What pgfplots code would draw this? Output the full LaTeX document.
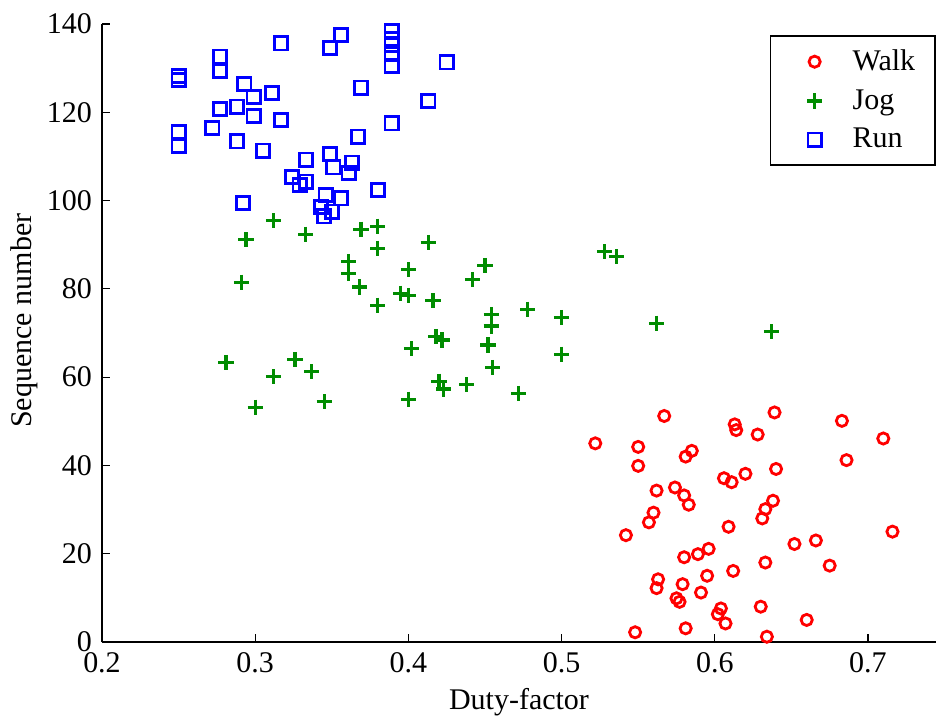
\documentclass[border=0pt]{standalone}
\usepackage{fontspec}
\setmainfont{Liberation Serif}
\usepackage{pgfplots}
\pgfplotsset{compat=1.18}

\definecolor{walkred}{RGB}{255,0,0}
\definecolor{joggreen}{RGB}{0,140,0}
\definecolor{runblue}{RGB}{0,0,255}

% marker in the middle of a 28bp wide legend cell
\pgfplotsset{
    mylegend/.style={legend image code/.code={%
        \path[draw=none, fill=none] (0bp,-1bp) rectangle (28bp,1bp);
        \path[##1] plot coordinates {(14bp,0bp)};}},
}

\begin{document}
\begin{tikzpicture}[font=\fontsize{15bp}{18bp}\selectfont]
\begin{axis}[
    name=ax,
    scale only axis,
    width=417bp, height=309bp,
    xmin=0.2, xmax=0.7444,
    ymin=0, ymax=140,
    axis x line*=bottom,
    axis y line*=left,
    axis line style={black, line width=0.8bp},
    tick align=inside,
    major tick length=4bp,
    tick style={black, line width=0.6bp},
    xtick={0.2,0.3,0.4,0.5,0.6,0.7},
    ytick={0,20,40,60,80,100,120,140},
    xticklabel style={/pgf/number format/fixed, /pgf/number format/precision=1, /pgf/number format/fixed zerofill, yshift=-2bp},
    yticklabel style={xshift=-1.5bp},
    /pgf/number format/assume math mode=true,
    xlabel={Duty-factor},
    ylabel={Sequence number},
    xlabel style={at={(axis description cs:0.5,0)}, anchor=center, yshift=-30bp},
    ylabel style={at={(axis description cs:-0.0935,0.52)}, anchor=center},
    clip=false,
    legend style={at={(1,1)}, anchor=north east, yshift=-5.5bp,
        draw=black, line width=0.8bp, inner xsep=8bp, inner ysep=5bp,
        nodes={inner sep=2bp}, column sep=3bp, row sep=4bp},
    legend cell align=left,
]
\addplot[only marks, mylegend, mark=o, walkred, mark size=2.8bp, line width=1.4bp] coordinates {
(0.567,51.2) (0.522,45.0) (0.550,44.2) (0.550,39.9) (0.613,49.3) (0.614,48.0)
(0.585,43.3) (0.581,42.0) (0.628,47.0) (0.606,37.1) (0.611,36.2) (0.620,38.1)
(0.562,34.3) (0.574,35.0) (0.580,33.2) (0.583,31.1) (0.560,29.3) (0.557,27.1)
(0.542,24.2) (0.609,26.1) (0.580,19.2) (0.589,19.9) (0.596,21.1) (0.612,16.1)
(0.563,14.2) (0.562,12.2) (0.579,13.1) (0.595,15.0) (0.591,11.2) (0.575,9.9)
(0.577,9.1) (0.604,7.6) (0.602,6.3) (0.607,4.2) (0.548,2.2) (0.581,3.1)
(0.639,52.0) (0.683,50.1) (0.710,46.1) (0.686,41.2) (0.640,39.2) (0.638,32.0)
(0.633,30.1) (0.631,28.0) (0.716,25.0) (0.652,22.2) (0.666,23.0) (0.633,18.0)
(0.675,17.3) (0.630,8.0) (0.660,5.0) (0.634,1.2)
};
\addlegendentry{Walk}
\addplot[only marks, mylegend, mark=+, joggreen, mark size=3.8bp, line width=1.6bp] coordinates {
(0.312,95.4) (0.294,91.1) (0.333,92.4) (0.369,93.5) (0.380,94.2) (0.380,89.2)
(0.413,90.5) (0.361,86.2) (0.361,83.4) (0.368,80.4) (0.400,84.3) (0.291,81.5)
(0.380,76.3) (0.395,79.0) (0.400,78.5) (0.416,77.3) (0.442,82.1) (0.281,63.3)
(0.312,60.1) (0.326,64.0) (0.337,61.2) (0.300,53.2) (0.345,54.4) (0.400,55.0)
(0.402,66.4) (0.418,69.2) (0.422,68.4) (0.420,59.1) (0.423,57.3) (0.438,58.3)
(0.528,88.4) (0.536,87.3) (0.450,85.3) (0.478,75.4) (0.454,74.2) (0.454,71.6)
(0.500,73.5) (0.562,72.2) (0.637,70.3) (0.452,67.3) (0.500,65.2) (0.455,62.2)
(0.472,56.3)
};
\addlegendentry{Jog}
\addplot[only marks, mylegend, mark=square, runblue, mark size=3.3bp, line width=1.4bp] coordinates {
(0.317,135.6) (0.356,137.5) (0.349,134.5) (0.389,138.4) (0.389,136.6) (0.389,135.2)
(0.389,133.2) (0.389,130.5) (0.425,131.3) (0.277,132.6) (0.277,129.4) (0.250,128.2)
(0.250,127.3) (0.250,115.5) (0.250,112.4) (0.293,126.4) (0.311,124.4) (0.299,123.4)
(0.288,121.3) (0.277,120.7) (0.299,119.2) (0.317,118.3) (0.272,116.4) (0.288,113.4)
(0.305,111.3) (0.369,125.6) (0.413,122.6) (0.389,117.5) (0.367,114.5) (0.333,109.3)
(0.349,110.6) (0.351,107.5) (0.363,108.6) (0.361,106.2) (0.324,105.4) (0.333,104.3)
(0.329,103.5) (0.380,102.4) (0.346,101.3) (0.356,100.5) (0.343,98.5) (0.350,97.5)
(0.345,96.4) (0.292,99.4)
};
\addlegendentry{Run}
\end{axis}
\pgfresetboundingbox
\path[use as bounding box] ([xshift=-51bp,yshift=-37.5bp]ax.south west) rectangle ([yshift=12bp]ax.north east);
\end{tikzpicture}
\end{document}
